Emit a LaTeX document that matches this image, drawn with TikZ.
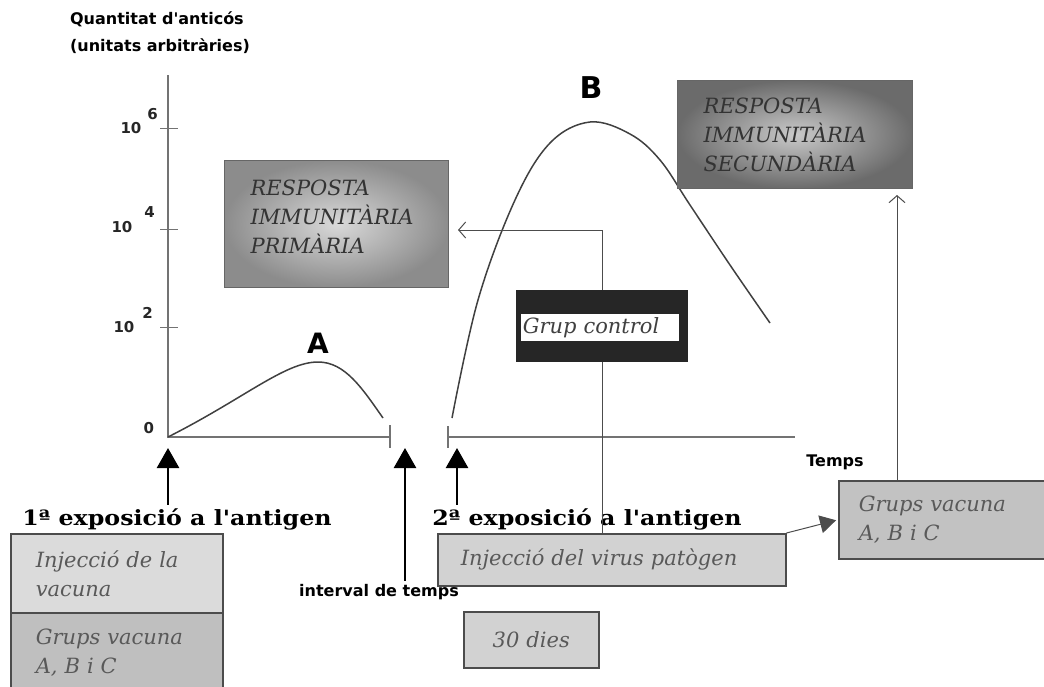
\documentclass[tikz,border=0pt]{standalone}
\usepackage{fontspec}
\usepackage{tikz}
\usetikzlibrary{positioning,arrows.meta}
\newfontfamily\boxfont{DejaVu Serif}
\newfontfamily\labfont{DejaVu Sans}

\begin{document}
\begin{tikzpicture}[x=1pt,y=-1pt,
  box/.style={draw=black!70,line width=1.5pt,inner ysep=0pt,align=left,text=black!65,
    font=\boxfont\itshape\fontsize{21}{29}\selectfont},
  resp/.style={box,draw=black!60,line width=1pt,text=black!80,shading=radial},
  lab/.style={font=\labfont\bfseries\fontsize{16}{27}\selectfont},
  ylab/.style={font=\labfont\bfseries\fontsize{15}{15}\selectfont,text=black!85,anchor=base west},
  expo/.style={font=\boxfont\bfseries\fontsize{21}{21}\selectfont},
  axis/.style={draw=black!55,line width=2pt},
  curve/.style={draw=black!75,line width=1.5pt},
  link/.style={draw=black!70,line width=1pt},
  uparr/.style={line width=2.5pt,-{Triangle[length=20pt,width=22pt]}}]
  \useasboundingbox (0,0) rectangle (1044,686);

  \node[lab,align=left] (title) at (160,33) {Quantitat d'anticós\\(unitats arbitràries)};

  \coordinate (O) at (168,437);
  \draw[axis] (168,75) -- (O) -- (390,437);
  \draw[axis] (390,425) -- (390,448);
  \draw[axis] (448,426) -- (448,448) (448,437) -- (795,437);
  \foreach \y in {128,229,327}
    \draw[axis,line width=1pt] (160,\y) -- (178,\y);
  \node[ylab] (y6) at (117,133) {10\hspace{6pt}\raisebox{14pt}{6}};
  \node[ylab] (y4) at (108,232) {10\hspace{12pt}\raisebox{15pt}{4}};
  \node[ylab] (y2) at (110,332) {10\hspace{8pt}\raisebox{14pt}{2}};
  \node[ylab] (y0) at (140,433) {0};
  \node[lab] (temps) at (835,462) {Temps};

  \draw[curve] (O) .. controls (245,398) and (285,362) .. (318,362)
    .. controls (345,362) and (362,388) .. (383,418);
  \draw[curve] plot[smooth,tension=0.6] coordinates {(452,418) (478,300) (515,200)
    (550,143) (590,122) (630,134) (660,160) (690,205) (730,265) (770,323)};
  \node[lab,font=\labfont\bfseries\fontsize{28}{28}\selectfont] (A) at (318,343) {A};
  \node[lab,font=\labfont\bfseries\fontsize{30}{30}\selectfont] (B) at (591,88) {B};

  \node[resp,inner color=gray!30,outer color=gray!90,anchor=north west,text depth=72pt,
    minimum width=224,minimum height=127,inner xsep=26,text width=172] (prim) at (224,160)
    {RESPOSTA\\IMMUNITÀRIA\\PRIMÀRIA};
  \node[resp,inner color=gray!42,outer color=black!58,anchor=north west,
    minimum width=235,minimum height=108,inner xsep=26,text width=183] (sec) at (677,80)
    {RESPOSTA\\IMMUNITÀRIA\\SECUNDÀRIA};

  \node[fill=black!85,anchor=north west,minimum width=172,minimum height=72] (ctrl) at (516,290) {};
  \node[box,draw=none,fill=white,text=black!75,anchor=north west,minimum width=158,minimum height=27,
    inner xsep=2,text width=154] (ctrltxt) at (520,313) {Grup control};

  \node[box,fill=gray!35,anchor=north west,minimum width=348,minimum height=52,
    inner xsep=23,text width=302] (virus) at (437,533) {Injecció del virus patògen};
  \node[box,fill=gray!35,anchor=north west,minimum width=135,minimum height=56,
    align=center,text width=95,inner xsep=20] (dies) at (463,611) {30 dies};
  \node[box,fill=gray!28,anchor=north west,minimum width=212,minimum height=79,
    inner xsep=25,text width=162] (vac1) at (10,533) {Injecció de la\\vacuna};
  \node[box,fill=gray!50,anchor=north west,minimum width=212,minimum height=80,
    inner xsep=25,text width=162] (vac2) at (10,612) {Grups vacuna\\A, B i C};
  \node[box,fill=gray!48,anchor=north west,minimum width=210,minimum height=78,
    inner xsep=20,text width=170] (grups) at (838,480) {Grups vacuna\\A, B i C};

  \node[expo] (expo1) at (177,519) {\scalebox{1.13}[1]{1ª exposició a l'antigen}};
  \node[expo] (expo2) at (587,519) {\scalebox{1.13}[1]{2ª exposició a l'antigen}};
  \node[lab] (interval) at (379,592) {interval de temps};

  \coordinate (S2) at (457,448);
  \coordinate (S3) at (405,448);
  \draw[uparr] (O |- expo1.north) -- ([yshift=-11pt]O);
  \draw[uparr] (expo2.north -| S2) -- (S2);
  \draw[uparr] (interval.north -| S3) -- (S3);

  \coordinate (ret) at (458,230);
  \coordinate (up2) at (897,195);
  \draw[link,-{Straight Barb[length=7pt,width=16pt]}] (ctrl.north) |- (ret);
  \draw[link] (ctrl.south) -- (ctrl.south |- virus.north);
  \draw[link,-{Straight Barb[length=7pt,width=16pt]}] (grups.north -| up2) -- (up2);
  \draw[link,-{Triangle[length=16pt,width=18pt]},shorten >=2pt] (virus.north east) -- (grups.west);
\end{tikzpicture}
\end{document}
